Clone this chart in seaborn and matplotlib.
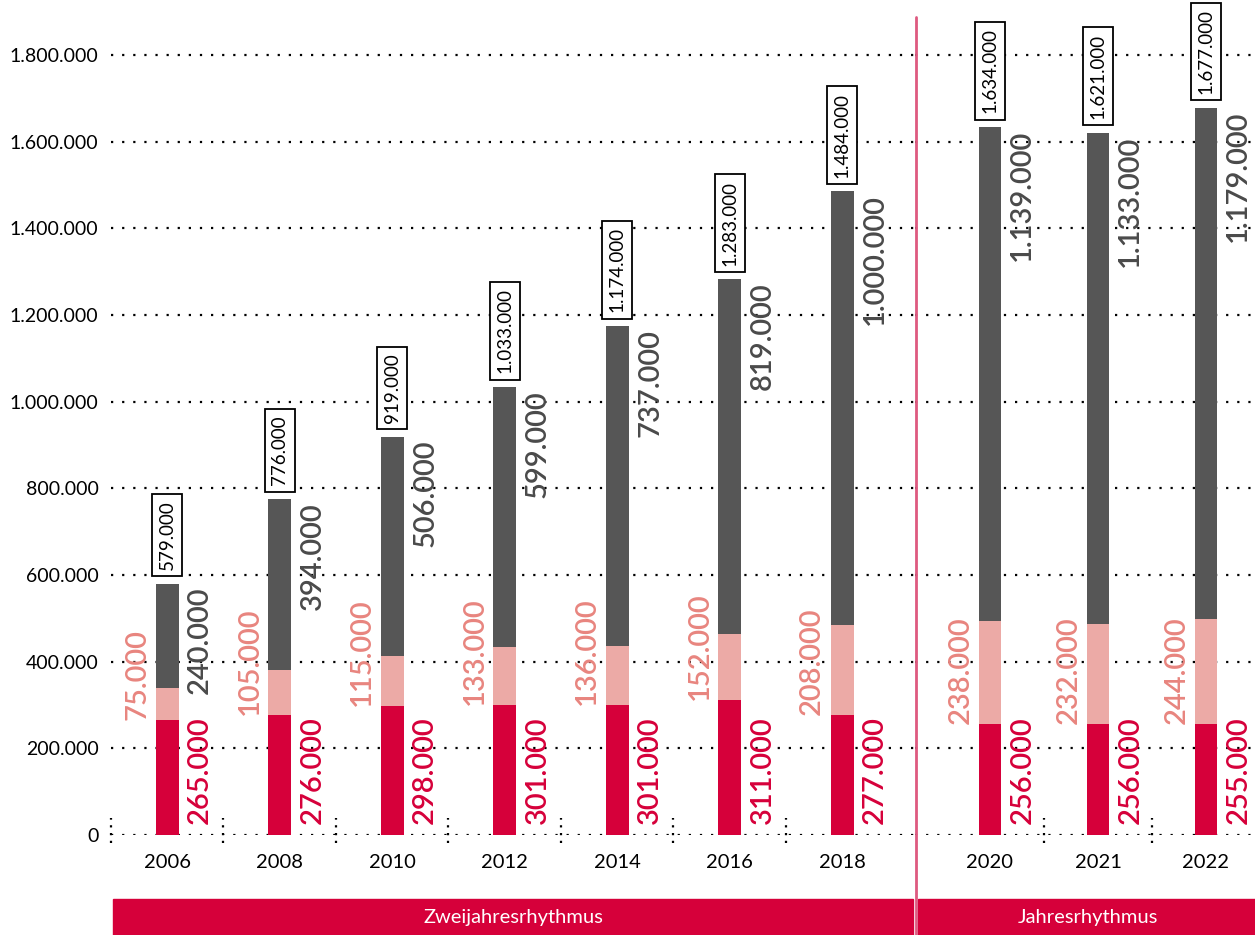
import numpy as np
import pandas as pd
import matplotlib
matplotlib.use('Agg')
import matplotlib.pyplot as plt
from matplotlib.patches import Rectangle
from matplotlib.lines import Line2D
import seaborn as sns

years = ["2006", "2008", "2010", "2012", "2014", "2016", "2018", "2020", "2021", "2022"]
rhythm = ["Zweijahresrhythmus"] * 7 + ["Jahresrhythmus"] * 3
red_vals = [265000, 276000, 298000, 301000, 301000, 311000, 277000, 256000, 256000, 255000]
pink_vals = [75000, 105000, 115000, 133000, 136000, 152000, 208000, 238000, 232000, 244000]
gray_vals = [240000, 394000, 506000, 599000, 737000, 819000, 1000000, 1139000, 1133000, 1179000]
totals = [579000, 776000, 919000, 1033000, 1174000, 1283000, 1484000, 1634000, 1621000, 1677000]

RED = "#d6003a"
PINK = "#ecaaa6"
PINK_TXT = "#e8857f"
GRAY = "#565656"
GRAY_TXT = "#4a4a4a"
LINE = "#de5a80"

sns.set_style("white")
plt.rcParams['font.family'] = ['Lato', 'DejaVu Sans']


def de(v):
    return f"{v:,.0f}".replace(",", ".")


df = pd.DataFrame({"year": years, "rhythm": rhythm, "red": red_vals,
                   "pink": pink_vals, "gray": gray_vals, "total": totals})
df["mid"] = df["red"] + df["pink"]
df["top"] = df["mid"] + df["gray"]

fig = plt.figure(figsize=(12.55, 9.35), dpi=100)
W, H = 1255, 935
ax1 = fig.add_axes([111 / W, 100 / H, 804 / W, 835 / H])
ax2 = fig.add_axes([915 / W, 100 / H, 340 / W, 835 / H], sharey=ax1)

ymax = 1926900
bw = 0.205
groups = [(ax1, "Zweijahresrhythmus", (-0.5, 6.647)), (ax2, "Jahresrhythmus", (-0.694, 2.454))]

for ax, name, xl in groups:
    sub = df[df["rhythm"] == name].reset_index(drop=True)
    for col, c in [("top", GRAY), ("mid", PINK), ("red", RED)]:
        sns.barplot(data=sub, x="year", y=col, color=c, saturation=1, width=bw,
                    linewidth=0, edgecolor="none", ax=ax)

    for i, r in sub.iterrows():
        ax.annotate(de(r["red"]), xy=(i + bw / 2, 0), xytext=(6, 8), textcoords="offset points",
                    rotation=90, ha="left", va="bottom", color=RED, fontsize=21, fontweight="semibold")
        ax.annotate(de(r["pink"]), xy=(i - bw / 2, r["red"]), xytext=(-4, 0), textcoords="offset points",
                    rotation=90, ha="right", va="bottom", color=PINK_TXT, fontsize=21, fontweight="semibold")
        ax.annotate(de(r["gray"]), xy=(i + bw / 2, r["top"]), xytext=(6, -2), textcoords="offset points",
                    rotation=90, ha="left", va="top", color=GRAY_TXT, fontsize=21, fontweight="semibold")
        ax.annotate(de(r["total"]), xy=(i, r["top"]), xytext=(0, 10), textcoords="offset points",
                    rotation=90, ha="center", va="bottom", color="black", fontsize=13.5,
                    bbox=dict(boxstyle="square,pad=0.34", fc="white", ec="black", lw=1.3))

    # small dotted separators between categories
    n = len(sub)
    seps = np.arange(n) - 0.5 if ax is ax1 else np.arange(1, n) - 0.5
    ax.vlines(seps, -18000, 39000, colors="black", linestyles=(0, (1, 2.5)), linewidth=1.6, clip_on=False)

    ax.set_xlim(*xl)
    ax.set_ylim(0, ymax)
    ax.set_xlabel("")
    ax.set_ylabel("")
    ax.grid(axis="y", color="black", linestyle=(0, (1, 4)), linewidth=1.6)
    ax.grid(axis="x", visible=False)
    ax.set_axisbelow(True)
    for s in ax.spines.values():
        s.set_visible(False)
    ax.tick_params(axis="x", length=0, pad=14, labelsize=14.5, colors="black")
    ax.tick_params(axis="y", length=0, pad=9, labelsize=14, colors="black")
    ax.patch.set_alpha(0)

yt = np.arange(0, 1800001, 200000)
ax1.set_yticks(yt)
ax1.set_yticklabels([de(v) for v in yt])
ax2.tick_params(axis="y", labelleft=False)

# divider line and rhythm bands
fig.add_artist(Line2D([916 / W, 916 / W], [0, (H - 17) / H], color=LINE, linewidth=2))
fig.add_artist(Rectangle((113 / W, 0), 800 / W, 36 / H, color=RED, transform=fig.transFigure))
fig.add_artist(Rectangle((918 / W, 0), 337 / W, 36 / H, color=RED, transform=fig.transFigure))
fig.text(513 / W, 18 / H, "Zweijahresrhythmus", color="white", fontsize=14.5, ha="center", va="center")
fig.text(1088 / W, 18 / H, "Jahresrhythmus", color="white", fontsize=14.5, ha="center", va="center")

fig.savefig("out.png", dpi=100)
